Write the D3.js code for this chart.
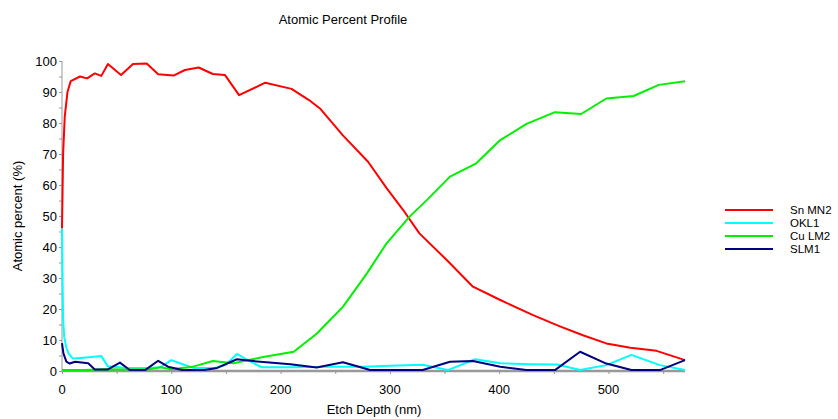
<!DOCTYPE html>
<html><head><meta charset="utf-8">
<script src="https://cdn.jsdelivr.net/npm/d3@7"></script>
<style>body{margin:0;background:#fff}svg{display:block}text{font-family:"Liberation Sans",Arial,sans-serif;fill:#000}</style>
</head><body><svg id="c" width="838" height="419"></svg>
<script>
const title = "Atomic Percent Profile";
const xLabel = "Etch Depth (nm)";
const yLabel = "Atomic percent (%)";
const xTicks = [0,100,200,300,400,500];
const yTicks = [0,10,20,30,40,50,60,70,80,90,100];
const seriesNames = ["Sn MN2","OKL1","Cu LM2","SLM1"];
const seriesColors = ["#ff0000","#00ffff","#00f000","#000080"];

const snDepth = [0,1,2.5,5,8,16.5,23,30,36,42,54,65,77.5,88,102,112.5,125,138,149,162,186,210,226,236,257,280,297,312,327,352,376,401,431,455,476,498,520,544,570];
const snValues = [46,70,82,90,93.5,95,94.4,96,95.2,99,95.5,99,99.2,95.7,95.3,97.1,97.9,95.8,95.5,89,93,91,87.4,84.7,76,67.5,59,52,44.4,35.8,27.2,22.9,18,14.5,11.6,8.9,7.5,6.5,3.5];

const oDepth = [0,0.5,1,2,4,6,10,20,36,42,60,80,90,100,108,120,140,150,160,170,183,210,245,275,300,330,353,378,401,428,453,474,498,521,547,570];
const oValues = [46,30,17,11,7.5,5.7,4,4.3,4.8,1.5,1,1,1.2,3.5,2.5,1,1,2,5.5,3.5,1.2,1.2,1.4,1.4,1.7,2,0.3,3.8,2.5,2.2,2.1,0.3,1.9,5.2,1.9,0.3];

const cuDepth = [0,20,40,60,80,90,100,120,138,157,184,212,233,257,279,297,318,334,355,379,401,425,451,475,498,523,546,570];
const cuValues = [0.3,0.3,0.6,0.5,0.6,1.2,0.6,1.4,3.2,2.5,4.5,6.2,12,20.7,31.5,41.2,49.8,55.2,62.7,67,74.5,79.7,83.5,82.9,87.9,88.7,92.3,93.5];

const sDepth = [0,1.3,4,7,12,24,30,42,53,62,76,88,97,110,130,142,160,175,187,209,233,257,282,330,355,376,401,425,451,474,498,521,547,570];
const sValues = [9,5.7,3,2.4,3,2.5,0.5,0.5,2.7,0.3,0.3,3.3,1.4,0.3,0.3,1,3.8,3.2,2.8,2.2,1.1,2.8,0.3,0.3,3,3.2,1.4,0.3,0.3,6.2,2.4,0.3,0.3,3.5];

const series = [[snDepth,snValues],[oDepth,oValues],[cuDepth,cuValues],[sDepth,sValues]];

const svg = d3.select("#c");
const x = d3.scaleLinear().domain([0,570]).range([62,685]);
const y = d3.scaleLinear().domain([0,100]).range([371,61]);
const fs = 13;

svg.append("text").attr("x",343).attr("y",24).attr("text-anchor","middle").attr("font-size",fs).text(title);

const gy = svg.append("g").attr("transform","translate(62,0)");
gy.call(d3.axisLeft(y).tickValues(d3.range(0,101,5)).tickSize(3).tickFormat(""));
gy.call(g=>g.selectAll("line,path").attr("stroke","#999"));
gy.call(g=>g.select(".domain").remove());
gy.append("line").attr("x1",0).attr("x2",0).attr("y1",y(0)).attr("y2",y(100)).attr("stroke","#999");
gy.selectAll("text.lbl").data(yTicks).join("text").attr("class","lbl")
  .attr("x",-5).attr("y",d=>y(d)).attr("dy","0.36em").attr("text-anchor","end").attr("font-size",fs).text(d=>d);

const gx = svg.append("g").attr("transform","translate(0,371)");
gx.call(d3.axisBottom(x).tickValues(d3.range(0,571,50)).tickSize(3).tickFormat(""));
gx.call(g=>g.selectAll("line").attr("stroke","#999"));
gx.call(g=>g.select(".domain").remove());
gx.append("line").attr("x1",x(0)).attr("x2",x(570)).attr("y1",0).attr("y2",0).attr("stroke","#999").attr("stroke-width",2.5);
gx.selectAll("text.lbl").data(xTicks).join("text").attr("class","lbl")
  .attr("x",d=>x(d)).attr("y",23).attr("text-anchor","middle").attr("font-size",fs).text(d=>d);

svg.append("text").attr("x",374).attr("y",414).attr("text-anchor","middle").attr("font-size",fs).text(xLabel);
svg.append("text").attr("transform","translate(22,216) rotate(-90)").attr("text-anchor","middle").attr("font-size",fs).text(yLabel);

const line = d3.line().x(d=>x(d[0])).y(d=>y(d[1]));
series.forEach((s,i)=>{
  const pts = s[0].map((d,j)=>[d,s[1][j]]);
  svg.append("path").datum(pts).attr("d",line).attr("fill","none")
    .attr("stroke",seriesColors[i]).attr("stroke-width",2).attr("stroke-linejoin","round");
});

const lg = svg.append("g");
seriesNames.forEach((n,i)=>{
  const yy = 210 + i*13;
  lg.append("line").attr("x1",725).attr("x2",773).attr("y1",yy).attr("y2",yy).attr("stroke",seriesColors[i]).attr("stroke-width",2);
  lg.append("text").attr("x",790).attr("y",yy).attr("dy","0.36em").attr("font-size",11.5).text(n);
});
</script></body></html>
